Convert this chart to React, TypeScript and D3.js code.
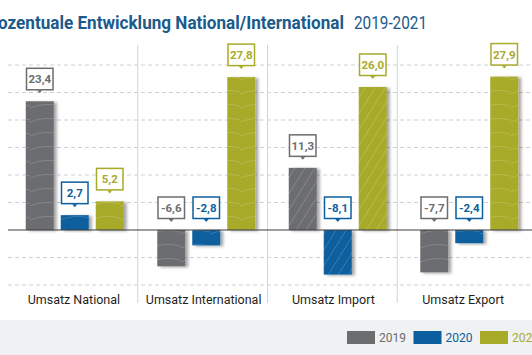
import React from "react";
import * as d3 from "d3";

const categories = ["Umsatz National", "Umsatz International", "Umsatz Import", "Umsatz Export"];
const years = ["2019", "2020", "2021"];
const v2019 = [23.4, -6.6, 11.3, -7.7];
const v2020 = [2.7, -2.8, -8.1, -2.4];
const v2021 = [5.2, 27.8, 26.0, 27.9];
const yTicks = [-10, -5, 0, 5, 10, 15, 20, 25, 30];
const colors = ["#6c6d6f", "#0c5f9e", "#a8aa2a"];
const titleMain = "Prozentuale Entwicklung National/International";
const titleYears = "2019-2021";

const W = 532;
const H = 355;
const FONT = "Roboto, 'DejaVu Sans', sans-serif";

export default function App() {
  const series = [v2019, v2020, v2021];
  const y = d3.scaleLinear().domain([-10, 30]).range([285, 65]);
  const xLab = d3.scaleBand<string>().domain(categories).range([8, 527]);
  const xGrp = d3.scaleBand<string>().domain(categories).range([9, 535]);
  const xIn = d3.scaleBand<string>().domain(years).range([-49, 49]).paddingInner(0.2);
  const bw = xIn.bandwidth();
  const fmt = (v: number) => d3.format(".1f")(v).replace(".", ",").replace("−", "-");

  return (
    <svg width={W} height={H} style={{ position: "absolute", left: 0, top: 0, background: "#fff" }} fontFamily={FONT}>
      <defs>
        <filter id="sh" x="-20%" y="-20%" width="160%" height="140%">
          <feDropShadow dx="3" dy="1" stdDeviation="1.6" floodColor="#000" floodOpacity="0.35" />
        </filter>
        <pattern id="waves" width="30" height="14" patternUnits="userSpaceOnUse">
          <path d="M0,10 Q15,4 30,8" fill="none" stroke="#fff" strokeOpacity="0.16" strokeWidth="1" />
        </pattern>
        <pattern id="diag" width="10" height="16" patternUnits="userSpaceOnUse">
          <path d="M0,16 L10,0" fill="none" stroke="#fff" strokeOpacity="0.18" strokeWidth="1" />
        </pattern>
      </defs>

      {/* title */}
      <text x={-19} y={29} fontSize={19} fontWeight={700} fill="#1b5a8b" textLength={363} lengthAdjust="spacingAndGlyphs">{titleMain}</text>
      <text x={354} y={29} fontSize={19} fill="#1b5a8b" textLength={73} lengthAdjust="spacingAndGlyphs">{titleYears}</text>

      {/* grid */}
      {yTicks.filter((t) => t !== 0).map((t) => (
        <line key={t} x1={8} x2={W} y1={y(t)} y2={y(t)} stroke="#cfd0d2" strokeWidth={1} strokeDasharray="4,3" />
      ))}
      {categories.slice(1).map((c) => (
        <line key={c} x1={xLab(c)!} x2={xLab(c)!} y1={45} y2={303} stroke="#d3d4d6" strokeWidth={1} />
      ))}

      {/* bars */}
      {categories.map((c, i) => {
        const cx = xGrp(c)! + xGrp.bandwidth() / 2;
        return years.map((yr, j) => {
          const v = series[j][i];
          const x0 = cx + xIn(yr)!;
          const top = Math.min(y(v), y(0));
          const h = Math.abs(y(v) - y(0));
          return (
            <g key={c + yr}>
              <rect x={x0} y={top} width={bw} height={h} fill={colors[j]} filter="url(#sh)" />
              <rect x={x0} y={top} width={bw} height={h} fill={i === 2 ? "url(#diag)" : "url(#waves)"} />
            </g>
          );
        });
      })}

      <line x1={8} x2={W} y1={y(0)} y2={y(0)} stroke="#3d3d3f" strokeWidth={1} />

      {/* value labels */}
      {categories.map((c, i) => {
        const cx = xGrp(c)! + xGrp.bandwidth() / 2;
        return years.map((yr, j) => {
          const v = series[j][i];
          const x0 = cx + xIn(yr)!;
          const base = Math.min(y(v), y(0));
          const bottom = base - 11.5;
          const mid = x0 + bw / 2;
          return (
            <g key={"l" + c + yr}>
              <rect x={x0 + 0.75} y={bottom - 21.5} width={bw - 1.5} height={21.5} fill="#fff" stroke={colors[j]} strokeWidth={1.5} />
              <path d={`M${mid - 2.5},${bottom + 0.5} L${mid + 2.5},${bottom + 0.5} L${mid},${bottom + 3.5} Z`} fill={colors[j]} />
              <text x={mid} y={bottom - 6.5} textAnchor="middle" fontSize={11.5} fontWeight={700} fill={colors[j]}>{fmt(v)}</text>
            </g>
          );
        });
      })}

      {/* category labels */}
      {categories.map((c) => (
        <text key={"c" + c} x={xLab(c)! + xLab.bandwidth() / 2 + 1} y={304} textAnchor="middle" fontSize={12.5} fontWeight={400} fill="#1f1f21">{c}</text>
      ))}

      {/* legend */}
      <rect x={0} y={320} width={W} height={H - 320} fill="#eff1f2" />
      {years.map((yr, j) => {
        const lx = 347 + j * 66.5;
        return (
          <g key={"lg" + yr}>
            <rect x={lx} y={331} width={28} height={13} fill={colors[j]} />
            <text x={lx + 32} y={342} fontSize={12} fill={colors[j]}>{yr}</text>
          </g>
        );
      })}
    </svg>
  );
}
